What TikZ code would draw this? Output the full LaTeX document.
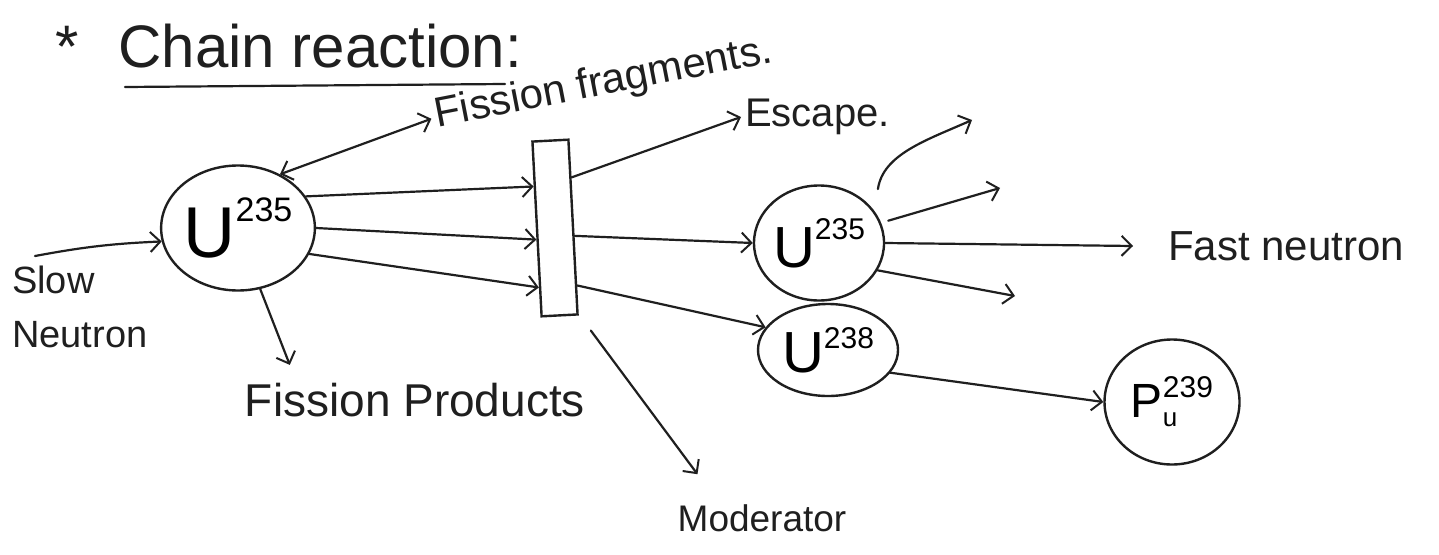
\documentclass[tikz,border=0pt]{standalone}
\usepackage{fontspec}
\setmainfont{Liberation Sans}
\usetikzlibrary{arrows.meta,shapes.geometric,calc}
\newcommand\isotp[5]{{\fontsize{#2}{#2}\selectfont #1}\raisebox{#5}{\fontsize{#4}{#4}\selectfont #3}}
\begin{document}
\begin{tikzpicture}[x=1pt,y=-1pt,
  ink/.style={line width=2.2pt, draw=black!88, line cap=round},
  arr/.style={ink, -{Straight Barb[length=10pt,width=20pt,line width=2pt]}},
  darr/.style={ink, {Straight Barb[length=10pt,width=20pt,line width=2pt]}-{Straight Barb[length=10pt,width=20pt,line width=2pt]}},
  atom/.style={ellipse, draw=black!88, line width=2.4pt, inner sep=0pt},
  lbl/.style={inner sep=0pt, text=black!88}
]
\useasboundingbox (0,0) rectangle (1439,554);
\fill[white] (0,0) rectangle (1439,554);

% texts
\node[lbl,anchor=west,font=\fontsize{60}{62}\selectfont] (title) at (55,46) {*\hspace{40pt}Chain reaction:};
\draw[ink] ([shift={(70,41)}]title.west) -- ([shift={(450,38)}]title.west);
\node[lbl,rotate=11,font=\fontsize{42}{44}\selectfont] (ff) at (604,84) {Fission fragments.};
\node[lbl,anchor=west,font=\fontsize{40}{42}\selectfont] (esc) at (745,117) {Escape.};
\node[lbl,anchor=north west,align=left,font=\fontsize{38}{54}\selectfont] (slow) at (12,266) {Slow\\Neutron};
\node[lbl,font=\fontsize{46}{48}\selectfont] (prod) at (415,400) {Fission Products};
\node[lbl,font=\fontsize{37}{40}\selectfont] (mod) at (762,518) {Moderator};
\node[lbl,anchor=west,font=\fontsize{42}{44}\selectfont] (fast) at (1168,246) {Fast neutron};

% atoms
\node[atom,minimum width=145,minimum height=125] (u1) at (238,228) {\isotp{U}{72}{235}{34}{36pt}};
\node[atom,minimum width=122,minimum height=115] (u2) at (819,243) {\isotp{U}{58}{235}{30}{28pt}};
\node[atom,minimum width=140,minimum height=92] (u3) at (828,350) {\isotp{U}{58}{238}{30}{24pt}};
\node[atom,minimum width=135,minimum height=125] (pu) at (1172,402)
  {{\fontsize{48}{48}\selectfont P}\makebox[0pt][l]{\raisebox{-9pt}{\fontsize{26}{26}\selectfont u}}\raisebox{20pt}{\fontsize{30}{30}\selectfont 239}};

% moderator bar
\node[draw=black!88,line width=2.4pt,minimum width=36,minimum height=175,inner sep=0pt,rotate=3] (bar) at (555,228) {};

% free ends
\coordinate (sn) at (35,256);
\coordinate (c1) at (972,120);
\coordinate (c2) at (1000,188);
\coordinate (c3) at (1015,296);

% connectors
\draw[arr] (sn) to[bend left=4] (u1.190);
\draw[darr] (u1.52) -- ([shift={(-4,2)}]ff.west);
\draw[arr] (u1.-70) -- ($(prod.north west)+(45,-18)$);
\draw[arr] (u1.25) -- ($(bar.north west)!0.26!(bar.south west)$);
\draw[arr] (u1.0) -- ($(bar.north west)!0.56!(bar.south west)$);
\draw[arr] (u1.-20) -- ($(bar.north west)!0.83!(bar.south west)$);
\draw[arr] ($(bar.north east)!0.22!(bar.south east)$) -- ([xshift=-4pt]esc.west);
\draw[arr] ($(bar.north east)!0.55!(bar.south east)$) -- (u2.west);
\draw[arr] ($(bar.north east)!0.83!(bar.south east)$) -- (u3.160);
\draw[arr] ($(bar.south east)+(12,15)$) -- ($(mod.north west)+(20,-30)$);
\draw[arr] ([shift={(15,-10)}]u2.45) .. controls ([shift={(20,-45)}]u2.45) and ($(c1)+(-45,20)$) .. (c1);
\draw[arr] ([xshift=8pt]u2.20) -- (c2);
\draw[arr] (u2.east) -- ($(fast.west)+(-35,0)$);
\draw[arr] (u2.-25) -- (c3);
\draw[arr] (u3.-20) -- (pu.west);
\end{tikzpicture}
\end{document}
